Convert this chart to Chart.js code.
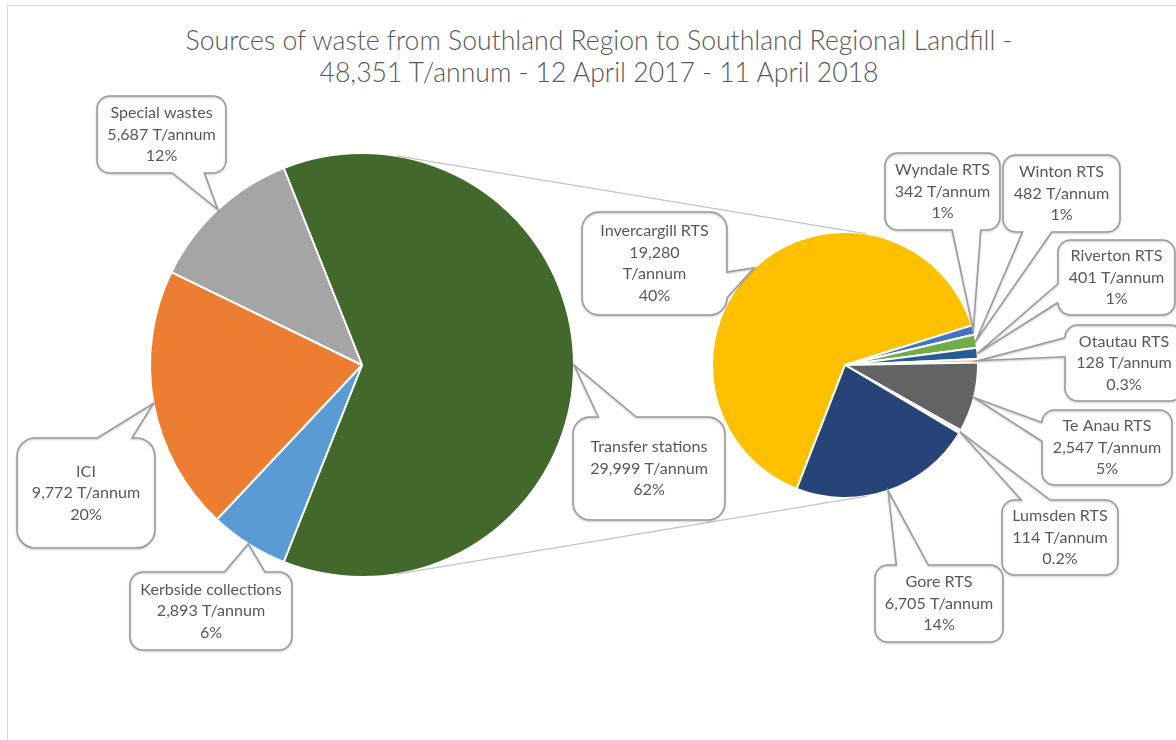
<!DOCTYPE html>
<html>
<head>
<meta charset="utf-8">
<script src="https://cdn.jsdelivr.net/npm/chart.js@4.4.0/dist/chart.umd.min.js"></script>
<style>
  body { margin: 0; background: #fff; }
  #wrap { position: relative; width: 1176px; height: 740px; overflow: hidden; background: #fff; }
  #frame { position: absolute; left: 7px; top: 5px; width: 1300px; height: 900px; border: 1px solid #d9d9d9; }
  canvas { position: absolute; left: 0; top: 0; }
  .title { position: absolute; left: 0; width: 1198px; text-align: center; color: #595959; font-family: Lato, sans-serif; font-weight: 300; white-space: nowrap; }
</style>
</head>
<body>
<div id="wrap">
  <div id="frame"></div>
  <div class="title" id="t1"></div>
  <div class="title" id="t2"></div>
  <canvas id="mainPie" width="1176" height="740"></canvas>
  <canvas id="rtsPie" width="1176" height="740"></canvas>
</div>
<script>
// main pie: where the waste comes from
const mainLabels = ['Transfer stations', 'Kerbside collections', 'ICI', 'Special wastes'];
const mainValues = [29999, 2893, 9772, 5687];
const mainColors = ['#43682B', '#5B9BD5', '#ED7D31', '#A5A5A5'];

// second pie: transfer stations split up
const rtsLabels = ['Invercargill RTS', 'Wyndale RTS', 'Winton RTS', 'Riverton RTS', 'Otautau RTS', 'Te Anau RTS', 'Lumsden RTS', 'Gore RTS'];
const rtsValues = [19280, 342, 482, 401, 128, 2547, 114, 6705];
const rtsColors = ['#FFC000', '#4472C4', '#70AD47', '#255E91', '#F4B183', '#636363', '#E7E6E6', '#264478'];

const totalTonnes = 48351;
const titleLines = ['Sources of waste from Southland Region to Southland Regional Landfill -', '48,351 T/annum - 12 April 2017 - 11 April 2018'];

// callout boxes: left, top, width, height
const mainBoxes = [[573, 417, 152, 103], [130, 572, 162, 78], [17, 438, 138, 110], [97, 96, 129, 77]];
const rtsBoxes = [[582, 212, 145, 103], [885, 153, 115, 77], [1003, 155, 117, 77], [1058, 240, 117, 75],
                  [1065, 325, 118, 76], [1042, 410, 130, 75], [1002, 500, 116, 75], [875, 565, 128, 77]];
const narrowLabels = ['Invercargill RTS'];

const FONT = 'Lato, sans-serif';
const TEXT = '#595959';

function fitSize(text, width, weight) {
  const c = document.createElement('canvas').getContext('2d');
  c.font = (weight || 400) + ' 100px ' + FONT;
  return 100 * width / c.measureText(text).width;
}

// title as html text
const t1 = document.getElementById('t1'), t2 = document.getElementById('t2');
const titleSize = fitSize(titleLines[0], 828, 300);
t1.textContent = titleLines[0];
t2.textContent = titleLines[1];
[t1, t2].forEach((el, i) => {
  el.style.fontSize = titleSize.toFixed(1) + 'px';
  el.style.lineHeight = '30px';
  el.style.top = (25 + i * 32) + 'px';
});

const labelSize = fitSize('Kerbside collections', 141);

function pctText(v) {
  const p = v / totalTonnes * 100;
  return (p < 0.5 ? p.toFixed(1) : Math.round(p)) + '%';
}

function calloutPath(ctx, l, t, w, h, tx, ty) {
  const r = l + w, b = t + h, hc = l + w / 2, vc = t + h / 2;
  const dx = tx - hc, dy = ty - vc;
  const dz = Math.abs(dy) - Math.abs(dx * h / w);
  const rad = Math.min(w, h) * 0.16667;
  const x1 = l + w * (dx > 0 ? 7 : 2) / 12, x2 = l + w * (dx > 0 ? 10 : 5) / 12;
  const y1 = t + h * (dy > 0 ? 7 : 2) / 12, y2 = t + h * (dy > 0 ? 10 : 5) / 12;
  ctx.beginPath();
  ctx.moveTo(l + rad, t);
  if (dz > 0 && dy < 0) { ctx.lineTo(x1, t); ctx.lineTo(tx, ty); ctx.lineTo(x2, t); }
  ctx.arcTo(r, t, r, b, rad);
  if (dz <= 0 && dx > 0) { ctx.lineTo(r, y1); ctx.lineTo(tx, ty); ctx.lineTo(r, y2); }
  ctx.arcTo(r, b, l, b, rad);
  if (dz > 0 && dy > 0) { ctx.lineTo(x2, b); ctx.lineTo(tx, ty); ctx.lineTo(x1, b); }
  ctx.arcTo(l, b, l, t, rad);
  if (dz <= 0 && dx < 0) { ctx.lineTo(l, y2); ctx.lineTo(tx, ty); ctx.lineTo(l, y1); }
  ctx.arcTo(l, t, r, t, rad);
  ctx.closePath();
}

function drawCallouts(ctx, chart, labels, values, boxes) {
  const arcs = chart.getDatasetMeta(0).data;
  arcs.forEach((arc, i) => {
    const p = arc.getProps(['x', 'y', 'startAngle', 'endAngle', 'outerRadius'], true);
    const mid = (p.startAngle + p.endAngle) / 2;
    const tx = p.x + Math.cos(mid) * p.outerRadius;
    const ty = p.y + Math.sin(mid) * p.outerRadius;
    const [l, t, w, h] = boxes[i];
    ctx.save();
    calloutPath(ctx, l, t, w, h, tx, ty);
    ctx.fillStyle = '#fff';
    ctx.fill();
    ctx.shadowColor = 'rgba(0,0,0,0.25)';
    ctx.shadowBlur = 2;
    ctx.shadowOffsetY = 1;
    ctx.strokeStyle = '#9a9a9a';
    ctx.lineWidth = 1.5;
    ctx.stroke();
    ctx.restore();

    const num = values[i].toLocaleString('en-US');
    const lines = narrowLabels.includes(labels[i])
      ? [labels[i], num, 'T/annum', pctText(values[i])]
      : [labels[i], num + ' T/annum', pctText(values[i])];
    const lh = 21.5;
    ctx.save();
    ctx.fillStyle = TEXT;
    ctx.font = labelSize.toFixed(1) + 'px ' + FONT;
    ctx.textAlign = 'center';
    ctx.textBaseline = 'middle';
    const y0 = t + h / 2 - (lines.length - 1) * lh / 2;
    lines.forEach((s, k) => ctx.fillText(s, l + w / 2, y0 + k * lh));
    ctx.restore();
  });
}

function drawSeriesLines(ctx, a, b) {
  const dx = b.x - a.x, dy = b.y - a.y, d = Math.hypot(dx, dy);
  const ux = dx / d, uy = dy / d;
  const s = (a.outerRadius - b.outerRadius) / d, c = Math.sqrt(1 - s * s);
  ctx.save();
  ctx.strokeStyle = '#c4c4c4';
  ctx.lineWidth = 1.2;
  [[uy, -ux], [-uy, ux]].forEach(([nx, ny]) => {
    const ex = ux * s + nx * c, ey = uy * s + ny * c;
    ctx.beginPath();
    ctx.moveTo(a.x + ex * a.outerRadius, a.y + ey * a.outerRadius);
    ctx.lineTo(b.x + ex * b.outerRadius, b.y + ey * b.outerRadius);
    ctx.stroke();
  });
  ctx.restore();
}

const baseOptions = {
  responsive: false,
  animation: false,
  events: [],
  plugins: { legend: { display: false }, tooltip: { enabled: false }, title: { display: false } }
};

const mainChart = new Chart(document.getElementById('mainPie'), {
  type: 'pie',
  data: {
    labels: mainLabels,
    datasets: [{ data: mainValues, backgroundColor: mainColors, borderColor: '#fff', borderWidth: 2 }]
  },
  options: Object.assign({}, baseOptions, {
    // keep the transfer stations slice centred on the right-hand side
    rotation: 90 - 180 * mainValues[0] / totalTonnes,
    radius: 212,
    layout: { padding: { left: 150, right: 602, top: 153, bottom: 163 } }
  })
});

const overlay = {
  id: 'overlay',
  afterDraw(chart) {
    const ctx = chart.ctx;
    const a = mainChart.getDatasetMeta(0).data[0].getProps(['x', 'y', 'outerRadius'], true);
    const b = chart.getDatasetMeta(0).data[0].getProps(['x', 'y', 'outerRadius'], true);
    drawSeriesLines(ctx, a, b);
    drawCallouts(ctx, mainChart, mainLabels, mainValues, mainBoxes);
    drawCallouts(ctx, chart, rtsLabels, rtsValues, rtsBoxes);
  }
};

new Chart(document.getElementById('rtsPie'), {
  type: 'pie',
  data: {
    labels: rtsLabels,
    datasets: [{ data: rtsValues, backgroundColor: rtsColors, borderColor: '#fff', borderWidth: 2 }]
  },
  options: Object.assign({}, baseOptions, {
    rotation: -158.7,
    radius: 133,
    layout: { padding: { left: 712, right: 198, top: 232, bottom: 242 } }
  }),
  plugins: [overlay]
});
</script>
</body>
</html>
